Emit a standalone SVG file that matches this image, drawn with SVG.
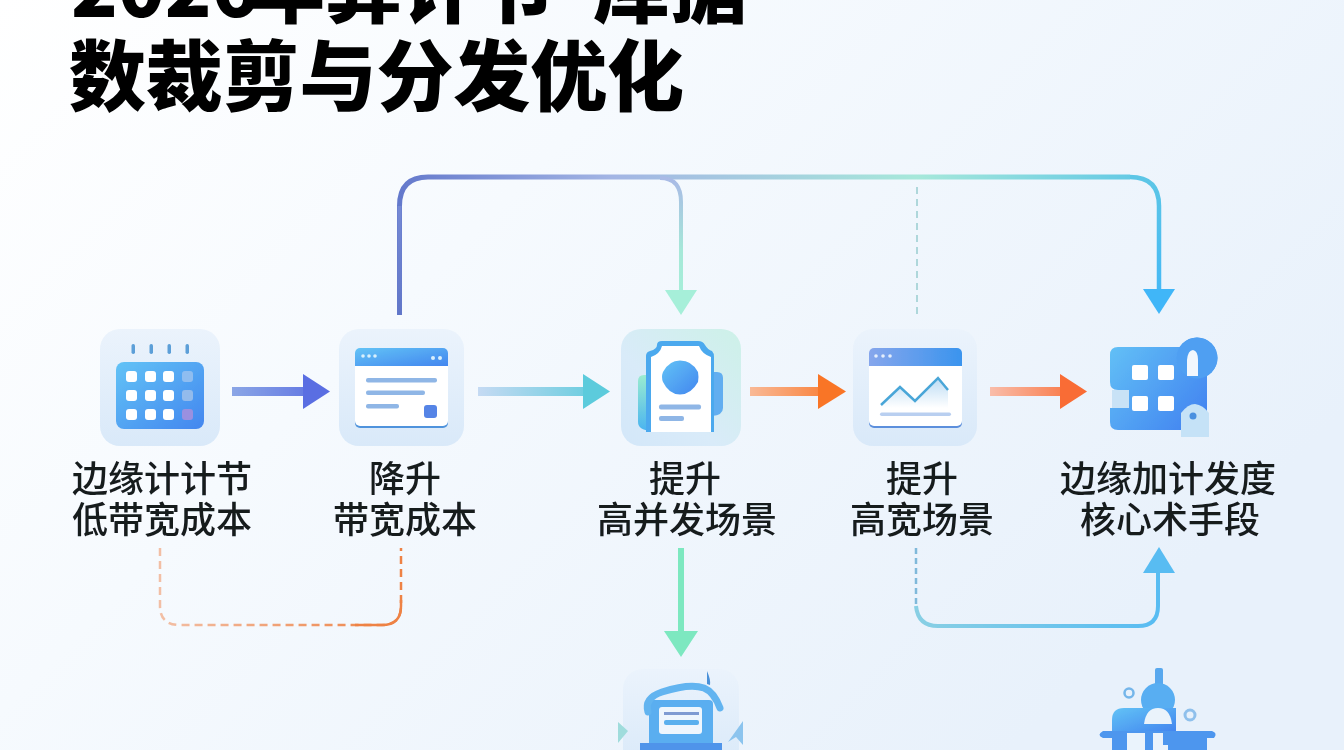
<svg xmlns="http://www.w3.org/2000/svg" width="1344" height="750" viewBox="0 0 1344 750">
<style>
.title{font-family:"Noto Sans CJK SC","Noto Sans",sans-serif;font-weight:900;font-size:77px;fill:#050505}
.label{font-family:"Noto Sans CJK SC","Noto Sans",sans-serif;font-weight:500;font-size:36px;fill:#161a1f;text-anchor:middle}
.tile{fill:url(#tile)}
.w{fill:#fff}
.bl{fill:#8fb6e6}
</style>
<defs>
<filter id="soft" x="0" y="0" width="100%" height="100%" filterUnits="userSpaceOnUse"><feGaussianBlur stdDeviation="0.45"/></filter>
<linearGradient id="bg" x1="0" y1="0" x2="1" y2="0.55"><stop offset="0" stop-color="#ffffff"/><stop offset="0.4" stop-color="#f6fafe"/><stop offset="1" stop-color="#e8f1fb"/></linearGradient>
<linearGradient id="tile" x1="0" y1="0" x2="0" y2="1"><stop offset="0" stop-color="#ebf3fc"/><stop offset="1" stop-color="#d9e9f9"/></linearGradient>
<linearGradient id="tile3" x1="1" y1="0" x2="0" y2="1"><stop offset="0" stop-color="#cdf1e8"/><stop offset="0.6" stop-color="#d9ebf9"/><stop offset="1" stop-color="#d3e7f9"/></linearGradient>
<linearGradient id="blue" x1="0" y1="0" x2="1" y2="1"><stop offset="0" stop-color="#62c3f6"/><stop offset="1" stop-color="#4386ef"/></linearGradient>
<linearGradient id="build" gradientUnits="userSpaceOnUse" x1="1110" y1="347" x2="1210" y2="430"><stop offset="0" stop-color="#62c0f6"/><stop offset="1" stop-color="#3f7ef0"/></linearGradient>
<linearGradient id="bar4" x1="0" y1="0" x2="1" y2="0"><stop offset="0" stop-color="#86a6ec"/><stop offset="1" stop-color="#3a94ee"/></linearGradient>
<linearGradient id="side" x1="0" y1="0" x2="0" y2="1"><stop offset="0" stop-color="#9aecd0"/><stop offset="1" stop-color="#4ab4f0"/></linearGradient>
<linearGradient id="chart" x1="0" y1="0" x2="0" y2="1"><stop offset="0" stop-color="#bcdcf4"/><stop offset="1" stop-color="#ffffff"/></linearGradient>
<linearGradient id="a1" gradientUnits="userSpaceOnUse" x1="232" y1="0" x2="330" y2="0"><stop offset="0" stop-color="#8ba6e6"/><stop offset="1" stop-color="#5a6ee2"/></linearGradient>
<linearGradient id="a2" gradientUnits="userSpaceOnUse" x1="478" y1="0" x2="610" y2="0"><stop offset="0" stop-color="#c5daf3"/><stop offset="1" stop-color="#5ccbdc"/></linearGradient>
<linearGradient id="a3" gradientUnits="userSpaceOnUse" x1="750" y1="0" x2="846" y2="0"><stop offset="0" stop-color="#f9b996"/><stop offset="1" stop-color="#f97526"/></linearGradient>
<linearGradient id="a4" gradientUnits="userSpaceOnUse" x1="990" y1="0" x2="1087" y2="0"><stop offset="0" stop-color="#f9bdaa"/><stop offset="1" stop-color="#f96c34"/></linearGradient>
<linearGradient id="top" gradientUnits="userSpaceOnUse" x1="399" y1="0" x2="1160" y2="0"><stop offset="0" stop-color="#6479cc"/><stop offset="0.28" stop-color="#a3b5e4"/><stop offset="0.68" stop-color="#a6e8da"/><stop offset="1" stop-color="#5cc6e6"/></linearGradient>
<linearGradient id="leftDown" gradientUnits="userSpaceOnUse" x1="0" y1="177" x2="0" y2="315"><stop offset="0" stop-color="#7b8fd8"/><stop offset="1" stop-color="#6176c8"/></linearGradient>
<linearGradient id="midDown" gradientUnits="userSpaceOnUse" x1="0" y1="177" x2="0" y2="300"><stop offset="0" stop-color="#a9b9e6"/><stop offset="0.6" stop-color="#a6e8d8"/><stop offset="1" stop-color="#a6efd9"/></linearGradient>
<linearGradient id="rightDown" gradientUnits="userSpaceOnUse" x1="0" y1="177" x2="0" y2="315"><stop offset="0" stop-color="#5cc6e6"/><stop offset="1" stop-color="#40b6f8"/></linearGradient>
<linearGradient id="org" gradientUnits="userSpaceOnUse" x1="160" y1="0" x2="401" y2="0"><stop offset="0" stop-color="#f2bfa5"/><stop offset="1" stop-color="#ee8244"/></linearGradient>
<linearGradient id="sky" gradientUnits="userSpaceOnUse" x1="916" y1="0" x2="1158" y2="0"><stop offset="0" stop-color="#88cfe4"/><stop offset="1" stop-color="#58bcf2"/></linearGradient>
</defs>
<rect id="background" width="1344" height="750" fill="url(#bg)"/>
<g id="diagram" filter="url(#soft)">
<g id="title">
<text class="title" y="17"><tspan x="71">2026</tspan><tspan x="248">年算</tspan><tspan x="401">计节</tspan><tspan x="563">·</tspan><tspan x="593">库据</tspan></text>
<text class="title" x="69" y="105" textLength="615">数裁剪与分发优化</text>
</g>
<g id="connectors" fill="none">
<path d="M232 391.500H305" stroke="url(#a1)" stroke-width="9"/><path d="M303 374L330 391.500L303 409Z" fill="#5a6ee2"/>
<path d="M478 391.500H585" stroke="url(#a2)" stroke-width="9"/><path d="M583 374L610 391.500L583 409Z" fill="#5ccbdc"/>
<path d="M750 391.500H820" stroke="url(#a3)" stroke-width="9"/><path d="M818 374L846 391.500L818 409Z" fill="#f97526"/>
<path d="M990 391.500H1062" stroke="url(#a4)" stroke-width="9"/><path d="M1060 374L1087 391.500L1060 409Z" fill="#f96c34"/>
<path d="M399.500 315V206Q399.500 177 428 177H1130" stroke="url(#top)" stroke-width="5"/>
<path d="M399.500 315V206" stroke="url(#leftDown)" stroke-width="4"/>
<path d="M1130 177Q1159 177 1159 206V292" stroke="url(#rightDown)" stroke-width="4.500"/>
<path d="M1143 289H1175L1159 314Z" fill="#40b6f8"/>
<path d="M660 178Q681 178 681 202V292" stroke="url(#midDown)" stroke-width="4"/>
<path d="M665 290H697L681 315Z" fill="#a6efd9"/>
<path d="M917 187V315" stroke="#a8d4d8" stroke-width="1.800" stroke-dasharray="7 5"/>
<path d="M160 548V606Q160 625 180 625H382Q401 625 401 606V548" stroke="url(#org)" stroke-width="2.500" stroke-dasharray="8 5"/>
<path d="M355 625H382Q401 625 401 606V600" stroke="#ee8244" stroke-width="2.500"/>
<path d="M681 548V634" stroke="#7de8c0" stroke-width="6"/>
<path d="M664 631H698L681 657Z" fill="#7de8c0"/>
<path d="M916 548V606" stroke="#7fb9da" stroke-width="2.500" stroke-dasharray="6 4"/>
<path d="M916 606Q918 626 938 626H1138Q1158 626 1158 606V570" stroke="url(#sky)" stroke-width="4"/>
<path d="M1143 573H1175L1159 547Z" fill="#58bcf2"/>
</g>
<g id="node-1">
<rect class="tile" x="100" y="329" width="120" height="117" rx="20"/>
<g fill="#5c9fd8"><rect x="131.500" y="344" width="3.500" height="10" rx="1.700"/><rect x="149.500" y="344" width="3.500" height="10" rx="1.700"/><rect x="167.500" y="344" width="3.500" height="10" rx="1.700"/><rect x="185.500" y="344" width="3.500" height="10" rx="1.700"/></g>
<rect x="116" y="362" width="88" height="67" rx="8" fill="url(#blue)"/>
<g class="w"><rect x="126" y="371" width="11" height="11" rx="3"/><rect x="145" y="371" width="11" height="11" rx="3"/><rect x="163" y="371" width="11" height="11" rx="3"/><rect x="126" y="390" width="11" height="11" rx="3"/><rect x="145" y="390" width="11" height="11" rx="3"/><rect x="163" y="390" width="11" height="11" rx="3"/><rect x="126" y="409" width="11" height="11" rx="3"/><rect x="145" y="409" width="11" height="11" rx="3"/><rect x="163" y="409" width="11" height="11" rx="3"/></g>
<rect x="182" y="371" width="11" height="11" rx="3" fill="#8fbdf0"/><rect x="182" y="390" width="11" height="11" rx="3" fill="#93bbec"/><rect x="182" y="409" width="11" height="11" rx="3" fill="#9a90e0"/>
<text class="label" x="162" y="492">边缘计计节</text><text class="label" x="162" y="533">低带宽成本</text>
</g>
<g id="node-2">
<rect class="tile" x="339" y="329" width="125" height="117" rx="20"/>
<rect x="355" y="350" width="93" height="78" rx="5" fill="#4f93dc"/>
<rect x="355" y="348" width="93" height="78" rx="5" fill="#fff"/>
<path d="M355 366V353a5 5 0 0 1 5-5H443a5 5 0 0 1 5 5V366Z" fill="url(#blue)"/>
<g fill="#d8f0fc"><circle cx="363" cy="356" r="1.800"/><circle cx="369" cy="356" r="1.800"/><circle cx="375" cy="356" r="1.800"/><circle cx="433" cy="358" r="2"/><circle cx="440" cy="358" r="2"/></g>
<rect class="bl" x="366" y="378" width="71" height="4.500" rx="2"/><rect class="bl" x="366" y="390.500" width="59" height="4.500" rx="2"/><rect class="bl" x="366" y="404" width="33" height="4.500" rx="2"/>
<rect x="424" y="405" width="13" height="13" rx="3" fill="#5484e6"/>
<text class="label" x="405" y="492">降升</text><text class="label" x="405" y="533">带宽成本</text>
</g>
<g id="node-3">
<rect x="621" y="329" width="120" height="117" rx="20" fill="url(#tile3)"/>
<path d="M651 375H644Q638 375 638 381V422Q638 430 651 431Z" fill="url(#side)"/>
<path d="M712 372H717Q723 372 723 378V408Q723 415 712 416Z" fill="#62aef0"/>
<path d="M646 432V356Q646 352 650 351Q657 349 657 345Q657 341 662 341H698Q703 341 705 345Q708 350 712 351Q714 353 714 357V432Z" fill="#4ba9ee"/>
<path d="M651 432V357Q660 354 662 346H699Q702 354 711 357V432Z" fill="#fff"/>
<path d="M680 360.500Q692 360.500 698 372Q699 377 698 382Q691 394.500 680 394.500Q669 394.500 663 382Q661 377 663 372Q669 360.500 680 360.500Z" fill="url(#blue)"/>
<rect class="bl" x="659" y="404.500" width="42" height="5" rx="2"/><rect class="bl" x="659" y="416" width="25" height="5" rx="2"/>
<text class="label" x="685" y="492">提升</text><text class="label" x="687" y="533">高并发场景</text>
</g>
<g id="node-4">
<rect class="tile" x="853" y="329" width="124" height="117" rx="20"/>
<rect x="869" y="350" width="93" height="78" rx="5" fill="#5c8fdc"/>
<rect x="869" y="348" width="93" height="78" rx="5" fill="#fff"/>
<path d="M869 366V353a5 5 0 0 1 5-5H957a5 5 0 0 1 5 5V366Z" fill="url(#bar4)"/>
<g fill="#e4eefc"><circle cx="876" cy="356" r="1.800"/><circle cx="883" cy="356" r="1.800"/><circle cx="890" cy="356" r="1.800"/></g>
<path d="M881 405L900 387L915 401L938 378L948 390V408H881Z" fill="url(#chart)"/>
<path d="M881 405L900 387L915 401L938 378L948 390" fill="none" stroke="#4aa6d8" stroke-width="2.500"/>
<rect x="880" y="412.500" width="71" height="3.500" rx="1.700" fill="#b9cff0"/>
<text class="label" x="922" y="492">提升</text><text class="label" x="922" y="533">高宽场景</text>
</g>
<g id="node-5">
<circle cx="1197" cy="358" r="20.500" fill="#4f9ff2"/>
<path d="M1118 347H1207V430H1118Q1110 430 1110 422V408H1128V390H1118Q1110 390 1110 382V355Q1110 347 1118 347Z" fill="url(#build)"/>
<circle cx="1197" cy="358" r="20.500" fill="#4f9ff2"/>
<rect x="1112" y="390" width="17" height="18" fill="#c8e2f6"/>
<g class="w"><rect x="1132" y="365" width="16" height="15" rx="2"/><rect x="1158" y="365" width="16" height="15" rx="2"/><rect x="1132" y="396" width="16" height="15" rx="2"/><rect x="1158" y="396" width="16" height="15" rx="2"/></g>
<path d="M1187 376V360Q1188 350 1193 350Q1198 351 1198 360V376Z" fill="#f2f7fd"/>
<path d="M1181 437V413Q1188 404 1195 404Q1203 405 1209 413V437Z" fill="#c5e2f7"/>
<circle cx="1193" cy="416" r="3.500" fill="#4a90e0"/>
<text class="label" x="1168" y="492">边缘加计发度</text><text class="label" x="1170" y="533">核心术手段</text>
</g>
<g id="node-6">
<rect x="623" y="669" width="116" height="100" rx="20" class="tile"/>
<path d="M707 671Q711 680 710 685L707 684Z" fill="#4a90d8"/>
<rect x="649" y="700" width="64" height="50" rx="4" fill="#5aaef0"/>
<path d="M648 712Q644 698 662 692Q690 683 704 688Q714 692 720 708" fill="none" stroke="#62b4f0" stroke-width="7" stroke-linecap="round"/>
<rect x="659" y="707" width="43" height="27" rx="3" fill="#eef6fd"/>
<rect x="664" y="712" width="35" height="3" fill="#7e9bd2"/><rect x="664" y="720" width="35" height="5" rx="2" fill="#5ab0ee"/>
<path d="M640 743H722V750H640Z" fill="#4f94ea"/>
<path d="M618 722L628 731L618 743Z" fill="#9fdcdc"/>
<path d="M728 742L743 721V745L736 737Z" fill="#8cc4ee"/>
</g>
<g id="node-7">
<rect x="1155" y="668" width="8" height="24" rx="2" fill="#58a8ee"/>
<circle cx="1158" cy="700" r="17" fill="#58aef2"/>
<path d="M1124 708H1176V731H1112V720Q1112 708 1124 708Z" fill="url(#blue)"/>
<circle cx="1129" cy="693" r="4.500" fill="none" stroke="#74b6ea" stroke-width="2.500"/>
<circle cx="1190" cy="715" r="5" fill="none" stroke="#8fc0ec" stroke-width="3"/>
<path d="M1144 724Q1146 708 1158 708Q1170 708 1172 724Z" fill="#eaf3fb"/>
<path d="M1103 731H1212Q1218 733 1214 738H1207V750H1112V738H1103Q1096 735 1103 731Z" fill="#4d96ee"/>
<path d="M1127 733H1145V750H1127ZM1153 733H1163V745H1168V750H1153Z" fill="#eaf3fc"/>
</g>
</g>
</svg>
